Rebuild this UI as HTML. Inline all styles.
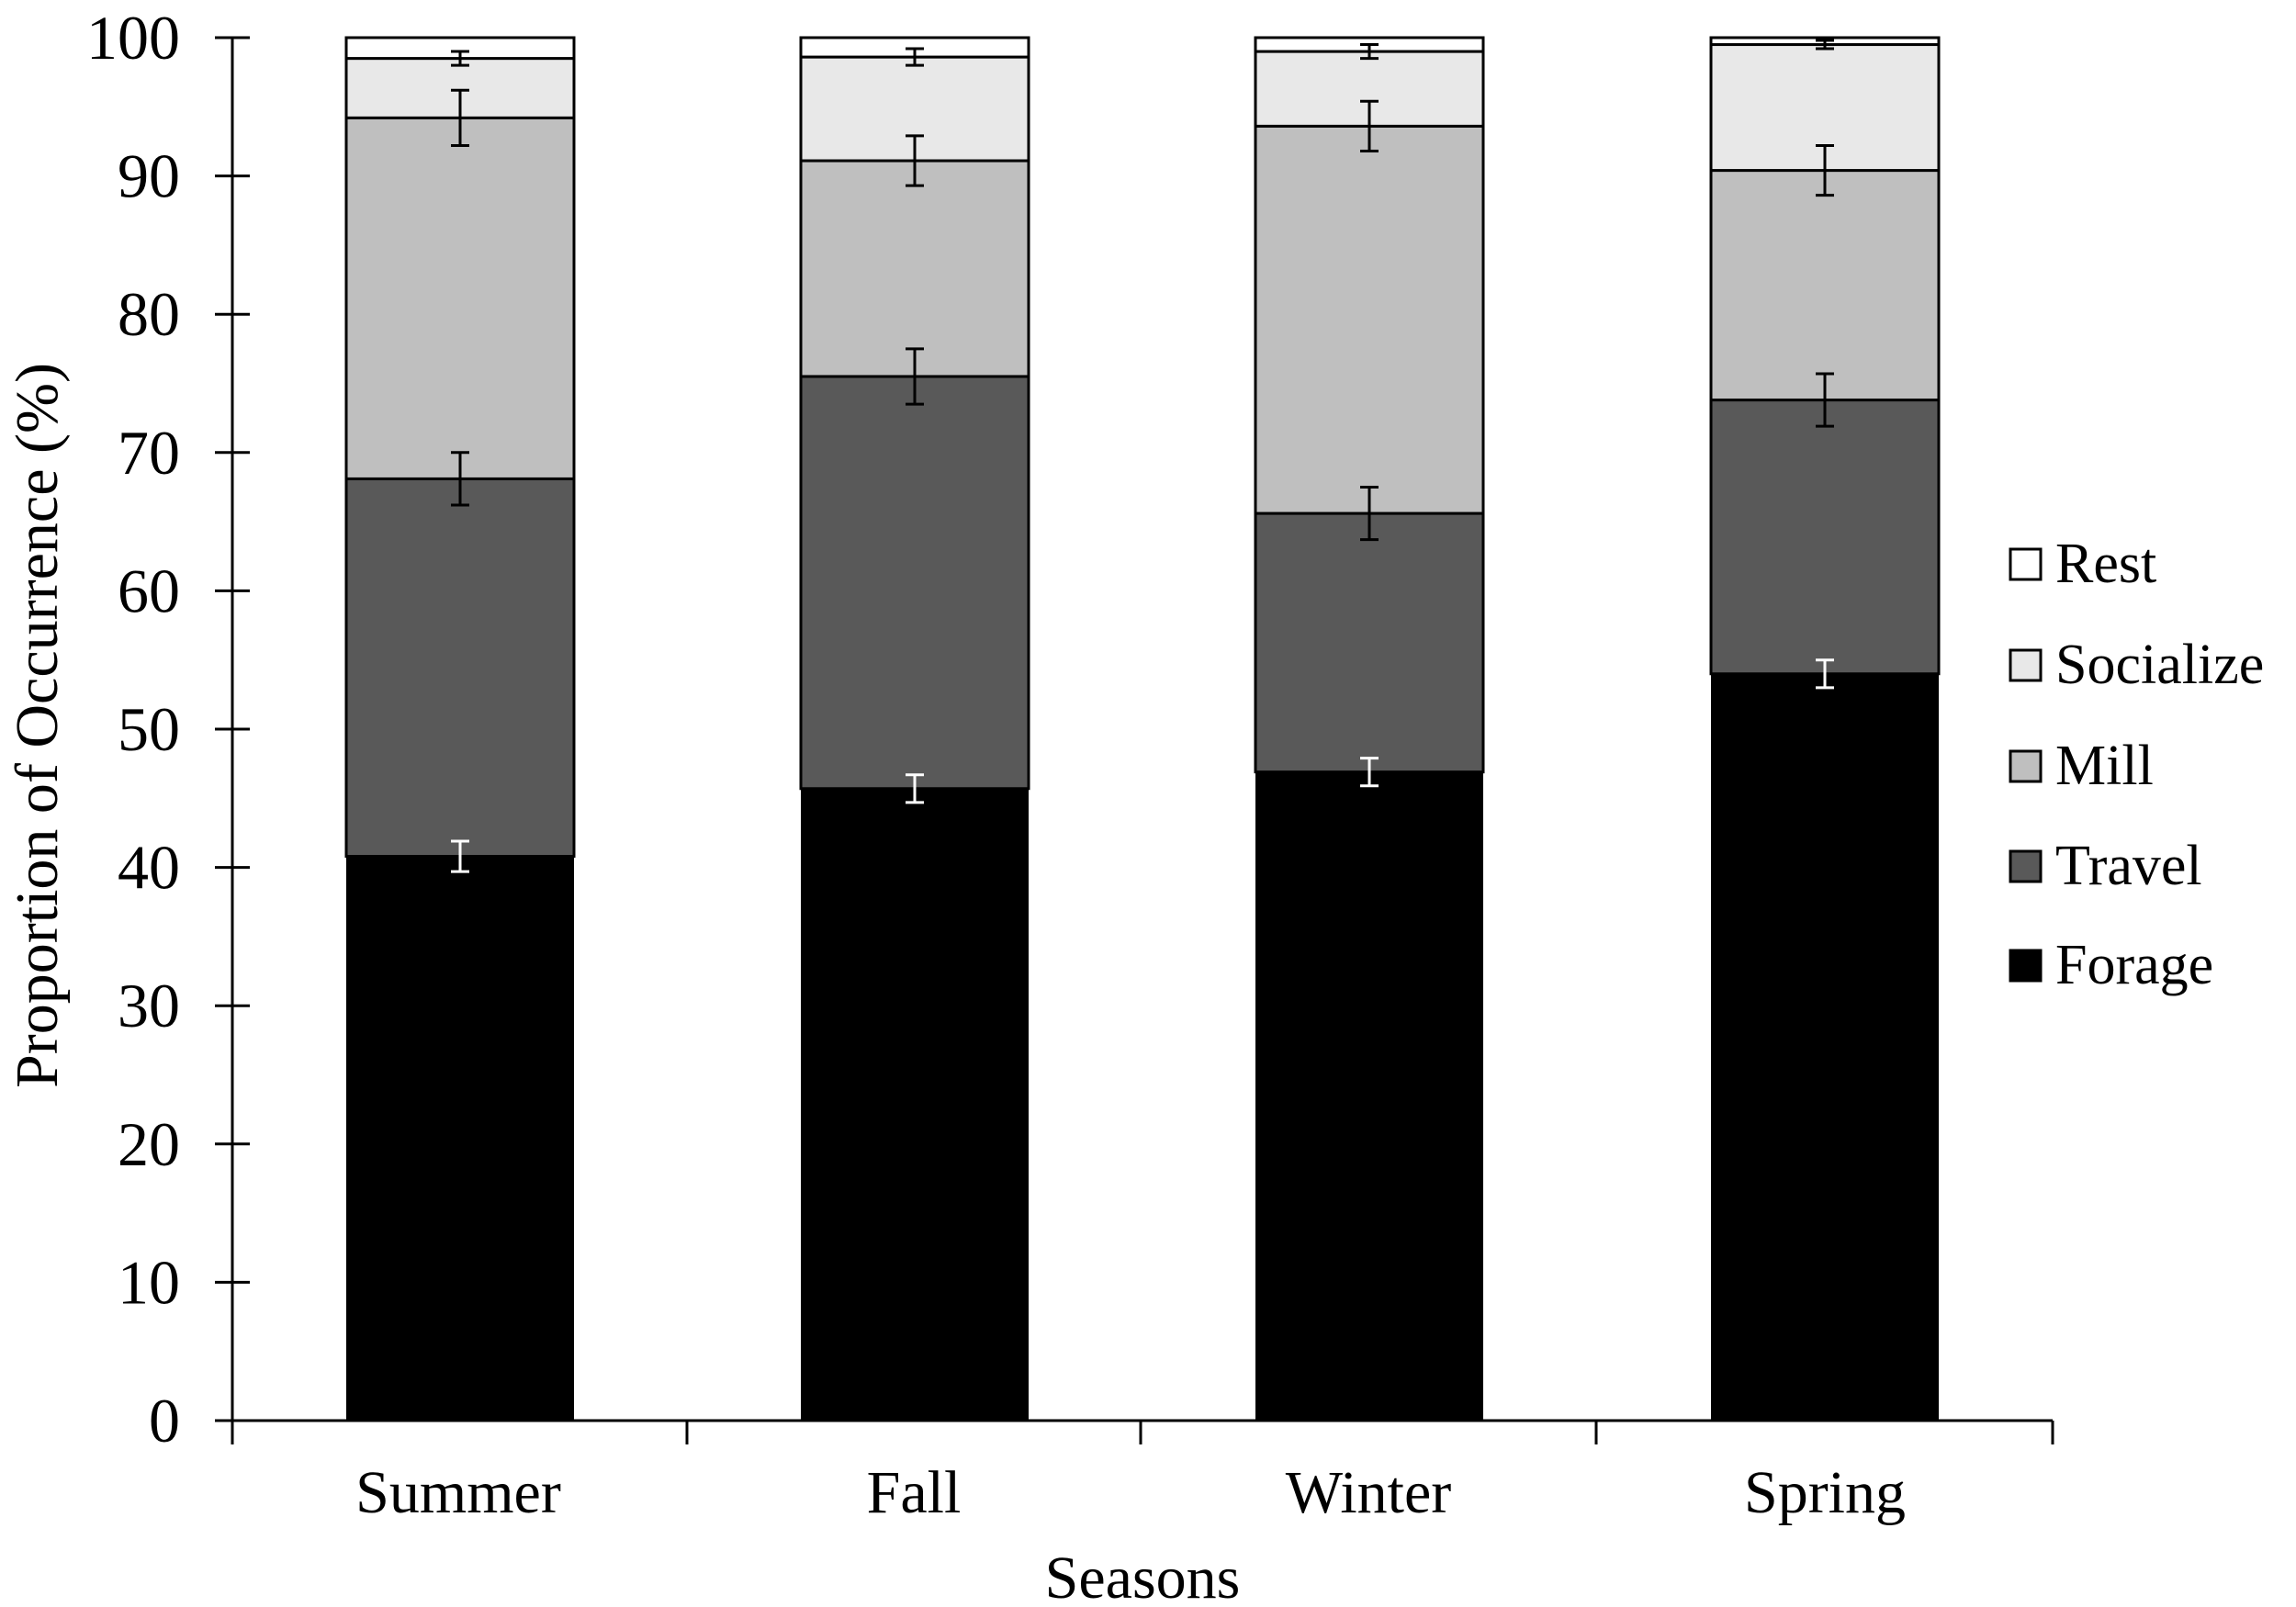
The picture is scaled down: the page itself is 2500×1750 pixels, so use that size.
<!DOCTYPE html>
<html><head><style>html,body{margin:0;padding:0;background:#fff}svg{display:block}text{font-family:"Liberation Serif","Times New Roman",serif}</style></head>
<body>
<svg width="2500" height="1750" viewBox="0 0 2500 1750" xmlns="http://www.w3.org/2000/svg" style="font-family:'Liberation Serif',serif">
<rect width="2500" height="1750" fill="#fff"/>
<g id="bars" stroke="#000" stroke-width="3"></g>
<g stroke="#000" stroke-width="3">
<line x1="253" y1="41" x2="253" y2="1548"/>
<line x1="253" y1="1547" x2="2235" y2="1547"/>
</g>
<g id="ticks" stroke="#000" stroke-width="3"></g>
<g id="labels" font-size="68" text-anchor="end"></g>
<g font-size="66" text-anchor="middle">
<text x="499" y="1647">Summer</text>
<text x="995" y="1647">Fall</text>
<text x="1490" y="1647">Winter</text>
<text x="1987" y="1647">Spring</text>
<text x="1244" y="1740">Seasons</text>
<text transform="translate(62,790) rotate(-90)">Proportion of Occurrence (%)</text>
</g>
<g stroke="#000" stroke-width="3">
<rect x="2189" y="598" width="33" height="33" fill="#fff"/>
<rect x="2189" y="708" width="33" height="33" fill="#e8e8e8"/>
<rect x="2189" y="818" width="33" height="33" fill="#bfbfbf"/>
<rect x="2189" y="927" width="33" height="33" fill="#595959"/>
<rect x="2189" y="1035" width="33" height="33" fill="#000"/>
</g>
<g font-size="62">
<text x="2238" y="634">Rest</text>
<text x="2238" y="744">Socialize</text>
<text x="2238" y="854">Mill</text>
<text x="2238" y="963">Travel</text>
<text x="2238" y="1071">Forage</text>
</g>
<script>
var ns="http://www.w3.org/2000/svg";
function y(v){return 1547-15.06*v;}
function el(p,t,a){var e=document.createElementNS(ns,t);for(var k in a)e.setAttribute(k,a[k]);p.appendChild(e);return e;}
var ticks=document.getElementById('ticks'),labels=document.getElementById('labels');
for(var v=0;v<=100;v+=10){el(ticks,'line',{x1:234,x2:272,y1:y(v),y2:y(v)});var t=el(labels,'text',{x:196,y:y(v)+23});t.textContent=v;}
[253,748,1242,1738,2235].forEach(function(x){el(ticks,'line',{x1:x,x2:x,y1:1547,y2:1573});});
var cols=['#000','#595959','#bfbfbf','#e8e8e8','#fff'];
var data=[
 {x:377,c:[40.8,68.1,94.2,98.5,100],e:[1.1,1.9,2.0,0.5]},
 {x:872,c:[45.7,75.5,91.1,98.6,100],e:[1.0,2.0,1.8,0.6]},
 {x:1367,c:[46.9,65.6,93.6,99.0,100],e:[1.0,1.9,1.8,0.5]},
 {x:1863,c:[54.0,73.8,90.4,99.5,100],e:[1.0,1.9,1.8,0.3]}];
var bars=document.getElementById('bars');
data.forEach(function(d){
 var prev=0;
 for(var i=0;i<5;i++){
  el(bars,'rect',{x:d.x,y:y(d.c[i]),width:248,height:y(prev)-y(d.c[i]),fill:cols[i],stroke:i==0?'none':'#000'});
  prev=d.c[i];
 }
 var cx=d.x+124;
 for(var i=0;i<4;i++){
  var col=i==0?'#fff':'#000',t=y(d.c[i]+d.e[i]),b=y(d.c[i]-d.e[i]);
  el(bars,'line',{x1:cx,x2:cx,y1:t,y2:b,stroke:col,'stroke-width':3});
  el(bars,'line',{x1:cx-10,x2:cx+10,y1:t,y2:t,stroke:col,'stroke-width':3});
  el(bars,'line',{x1:cx-10,x2:cx+10,y1:b,y2:b,stroke:col,'stroke-width':3});
 }
});
</script>
</svg>
</body></html>
